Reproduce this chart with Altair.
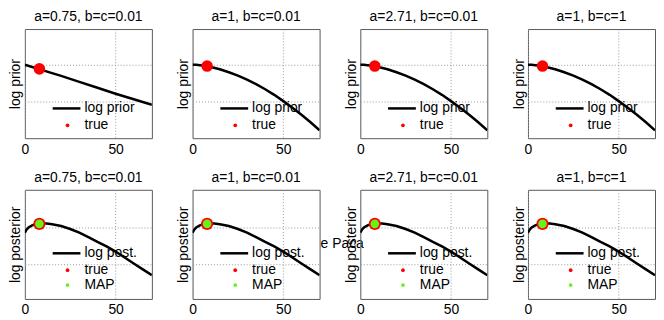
import altair as alt
import pandas as pd

FONT = "Liberation Sans"

titles = ["a=0.75, b=c=0.01", "a=1, b=c=0.01", "a=2.71, b=c=0.01", "a=1, b=c=1"]

# log prior, a=0.75 (top-left)
x_prior_a075 = [0, 10, 20, 30, 40, 50, 60, 70]
y_prior_a075 = [0.0, -0.15, -0.30, -0.46, -0.62, -0.78, -0.93, -1.08]

# log prior, other panels
x_prior = [0, 2, 4, 6, 8, 10, 15, 20, 25, 30, 35, 40, 45, 50, 55, 60, 65, 70]
y_prior = [0.0, 0.0, -0.01, -0.02, -0.035, -0.06, -0.12, -0.20, -0.29, -0.40,
           -0.52, -0.66, -0.81, -0.98, -1.16, -1.35, -1.55, -1.77]

# log posterior (all bottom panels)
x_post = [0, 1, 2, 4, 6, 8, 10, 12, 15, 20, 25, 30, 35, 40, 45, 50, 55, 60, 65, 70]
y_post = [-0.15, -0.06, -0.01, 0.05, 0.08, 0.09, 0.10, 0.10, 0.08, 0.03, -0.05,
          -0.15, -0.27, -0.40, -0.52, -0.66, -0.82, -0.98, -1.14, -1.30]

true_x = [8, 8, 8, 8]
true_prior_y = [-0.11, -0.035, -0.035, -0.035]
true_post_y = [0.09, 0.09, 0.09, 0.09]
map_x = [8, 8, 8, 8]
map_y = [0.09, 0.09, 0.09, 0.09]

prior_labels = ["log prior", "true"]
post_labels = ["log post.", "true", "MAP"]
stray_text = "e Paca"

W, H = 128, 110
RED = "#ff0000"
GREEN = "#66f21c"


def legend_text(label, y):
    return alt.Chart(pd.DataFrame({"t": [label]})).mark_text(
        align="left", baseline="middle", font=FONT, fontSize=14, color="black"
    ).encode(x=alt.value(60), y=alt.value(y), text="t:N")


def legend_dot(color, y):
    return alt.Chart(pd.DataFrame({"k": [0]})).mark_point(
        filled=True, color=color, size=14, opacity=1
    ).encode(x=alt.value(43), y=alt.value(y))


def legend_line(y):
    return alt.Chart(pd.DataFrame({"k": [0]})).mark_rule(
        color="black", strokeWidth=2.5
    ).encode(x=alt.value(28), x2=alt.value(56), y=alt.value(y))


def panel(i, row):
    if row == 0:
        if i == 0:
            df = pd.DataFrame({"x": x_prior_a075, "y": y_prior_a075})
        else:
            df = pd.DataFrame({"x": x_prior, "y": y_prior})
        ydom = [-1.98, 0.965]
        ytitle = "log prior"
    else:
        df = pd.DataFrame({"x": x_post, "y": y_post})
        ydom = [-1.94, 1.01]
        ytitle = "log posterior"

    xsc = alt.Scale(domain=[0, 70], nice=False, zero=False)
    ysc = alt.Scale(domain=ydom, nice=False, zero=False)

    line = alt.Chart(df).mark_line(color="black", strokeWidth=2.5, clip=True).encode(
        x=alt.X("x:Q", scale=xsc, axis=alt.Axis(values=[0, 50], title=None, labelFlush=False)),
        y=alt.Y("y:Q", scale=ysc, axis=alt.Axis(values=[-1, 0], labels=False, title=ytitle)),
    )

    layers = [line]
    if row == 0:
        tdf = pd.DataFrame({"x": [true_x[i]], "y": [true_prior_y[i]]})
        layers.append(alt.Chart(tdf).mark_point(filled=True, color=RED, size=135, opacity=1)
                      .encode(x="x:Q", y="y:Q"))
        layers += [legend_line(80), legend_text(prior_labels[0], 80),
                   legend_dot(RED, 97), legend_text(prior_labels[1], 97)]
    else:
        tdf = pd.DataFrame({"x": [true_x[i]], "y": [true_post_y[i]]})
        mdf = pd.DataFrame({"x": [map_x[i]], "y": [map_y[i]]})
        layers.append(alt.Chart(tdf).mark_point(filled=True, color=RED, size=150, opacity=1)
                      .encode(x="x:Q", y="y:Q"))
        layers.append(alt.Chart(mdf).mark_point(filled=True, color=GREEN, size=75, opacity=1)
                      .encode(x="x:Q", y="y:Q"))
        layers += [legend_line(64), legend_text(post_labels[0], 64),
                   legend_dot(RED, 81), legend_text(post_labels[1], 81),
                   legend_dot(GREEN, 96), legend_text(post_labels[2], 96)]
        if i == 1:
            layers.append(
                alt.Chart(pd.DataFrame({"t": [stray_text]})).mark_text(
                    align="left", baseline="middle", font=FONT, fontSize=14, color="black"
                ).encode(x=alt.value(W + 1), y=alt.value(55), text="t:N")
            )

    return alt.layer(*layers).properties(
        width=W, height=H,
        title=alt.TitleParams(titles[i], font=FONT, fontSize=14, fontWeight="normal",
                              color="black", offset=5),
    )


top = alt.hconcat(*[panel(i, 0) for i in range(4)], spacing=41, bounds="flush")
bottom = alt.hconcat(*[panel(i, 1) for i in range(4)], spacing=41, bounds="flush")

chart = alt.vconcat(top, bottom, spacing=13).properties(
    padding={"left": 0, "top": 0, "right": 0, "bottom": 0}
).configure_view(
    stroke="#5a5a5a", strokeWidth=1
).configure_axis(
    domain=False, ticks=False, grid=True, gridDash=[1, 2], gridColor="#9a9a9a",
    labelFont=FONT, labelFontSize=14, labelColor="black", labelPadding=4,
    titleFont=FONT, titleFontSize=14, titleFontWeight="normal", titleColor="black",
    titlePadding=2,
)

chart.save("out.html", embed_options={"renderer": "svg", "actions": False})
